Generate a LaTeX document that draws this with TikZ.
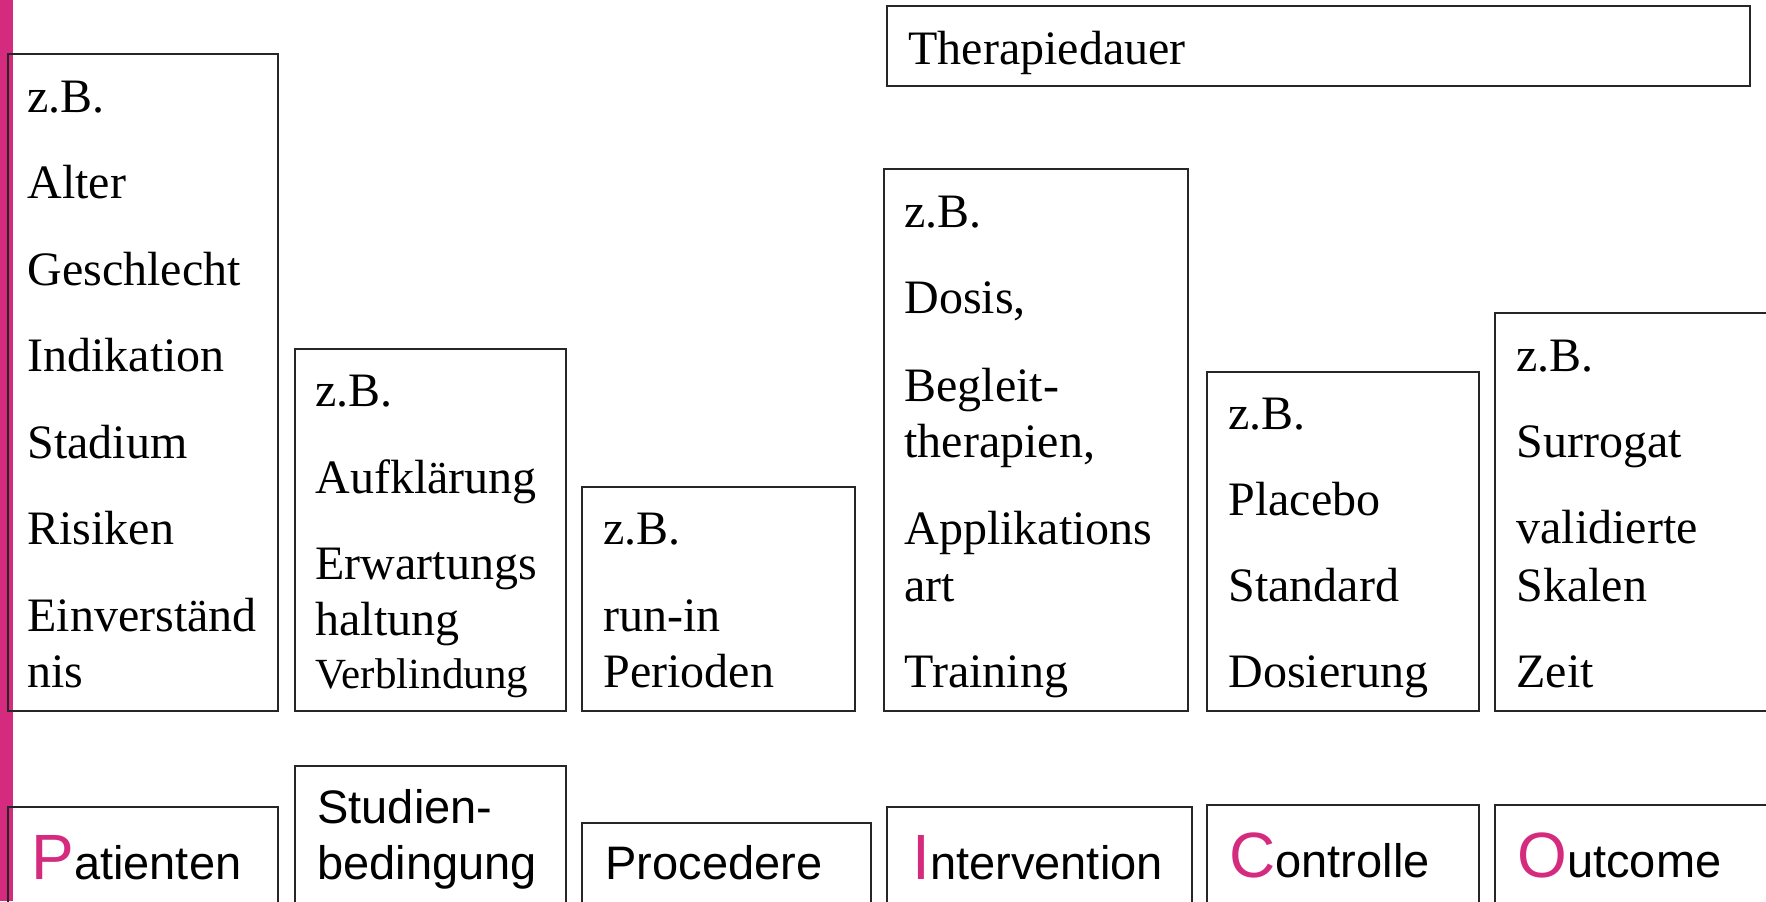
\documentclass[tikz,border=0pt]{standalone}
\usepackage{fontspec}
\setmainfont{Liberation Serif}
\setsansfont{Liberation Sans}
\definecolor{picopink}{RGB}{213,43,126}
\newcommand\pinkcap[1]{{\color{picopink}\fontsize{32}{32}\selectfont #1}}
\begin{document}
\begin{tikzpicture}[x=0.5pt,y=-0.5pt,
  box/.style={draw=black!85,line width=1pt},
  item/.style={anchor=base west,inner sep=0pt,font=\fontsize{24}{28}\selectfont},
  smallitem/.style={anchor=base west,inner sep=0pt,font=\fontsize{21.5}{24}\selectfont},
  head/.style={anchor=base west,inner sep=0pt,font=\sffamily\fontsize{23.5}{28}\selectfont},
]
\clip (0,0) rectangle (1766,901);
\fill[white] (0,0) rectangle (1766,901);
% accent bar along the left edge
\fill[picopink] (0,0) rectangle (13,901);

% overall duration
\draw[box] (887,6) rectangle (1750,86);
\node[item] (dauer) at (908,64) {Therapiedauer};

% upper row: examples
\draw[box] (8,54) rectangle (278,711);
\draw[box] (295,349) rectangle (566,711);
\draw[box] (582,487) rectangle (855,711);
\draw[box] (884,169) rectangle (1188,711);
\draw[box] (1207,372) rectangle (1479,711);
\draw[box] (1495,313) rectangle (1780,711);

% P column
\node[item] (p1) at (27,112) {z.B.};
\node[item] (p2) at (27,198) {Alter};
\node[item] (p3) at (27,285) {Geschlecht};
\node[item] (p4) at (27,371) {Indikation};
\node[item] (p5) at (27,458) {Stadium};
\node[item] (p6) at (27,544) {Risiken};
\node[item] (p7) at (27,631) {Einverständ};
\node[item] (p8) at (27,687) {nis};

% study conditions column
\node[item] (s1) at (315,406) {z.B.};
\node[item] (s2) at (315,493) {Aufklärung};
\node[item] (s3) at (315,579) {Erwartungs};
\node[item] (s4) at (315,635) {haltung};
\node[smallitem] (s5) at (315,688) {Verblindung};

% procedure column
\node[item] (r1) at (603,544) {z.B.};
\node[item] (r2) at (603,631) {run-in};
\node[item] (r3) at (603,687) {Perioden};

% intervention column
\node[item] (i1) at (904,227) {z.B.};
\node[item] (i2) at (904,313) {Dosis,};
\node[item] (i3) at (904,401) {Begleit-};
\node[item] (i4) at (904,457) {therapien,};
\node[item] (i5) at (904,544) {Applikations};
\node[item] (i6) at (904,601) {art};
\node[item] (i7) at (904,687) {Training};

% control column
\node[item] (c1) at (1228,429) {z.B.};
\node[item] (c2) at (1228,515) {Placebo};
\node[item] (c3) at (1228,601) {Standard};
\node[item] (c4) at (1228,687) {Dosierung};

% outcome column
\node[item] (o1) at (1516,371) {z.B.};
\node[item] (o2) at (1516,457) {Surrogat};
\node[item] (o3) at (1516,543) {validierte};
\node[item] (o4) at (1516,601) {Skalen};
\node[item] (o5) at (1516,687) {Zeit};

% lower row: headings
\draw[box] (8,807) rectangle (278,920);
\draw[box] (295,766) rectangle (566,920);
\draw[box] (582,823) rectangle (871,920);
\draw[box] (887,807) rectangle (1192,920);
\draw[box] (1207,805) rectangle (1479,920);
\draw[box] (1495,805) rectangle (1780,920);

\node[head] (hp) at (31,879) {\pinkcap{P}atienten};
\node[head] (hs1) at (317,823) {Studien-};
\node[head] (hs2) at (317,879) {bedingung};
\node[head] (hr) at (605,879) {Procedere};
\node[head] (hi) at (912,879) {\pinkcap{I}ntervention};
\node[head] (hc) at (1229,877) {\pinkcap{C}ontrolle};
\node[head] (ho) at (1517,877) {\pinkcap{O}utcome};
\end{tikzpicture}
\end{document}
